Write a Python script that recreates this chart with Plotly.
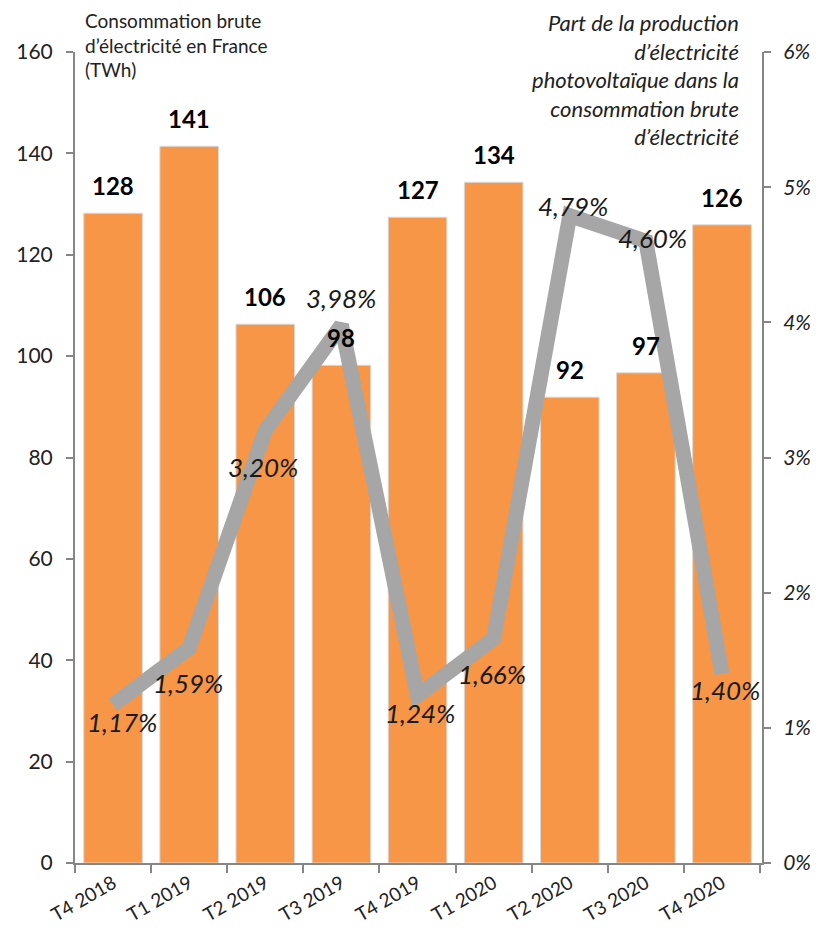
import plotly.graph_objects as go

categories = ["T4 2018", "T1 2019", "T2 2019", "T3 2019", "T4 2019", "T1 2020", "T2 2020", "T3 2020", "T4 2020"]
consumption = [128.2, 141.4, 106.3, 98.2, 127.4, 134.3, 91.9, 96.7, 125.9]
consumption_labels = ["128", "141", "106", "98", "127", "134", "92", "97", "126"]
pv_share = [1.17, 1.59, 3.20, 3.98, 1.24, 1.66, 4.79, 4.60, 1.40]
pv_labels = ["1,17%", "1,59%", "3,20%", "3,98%", "1,24%", "1,66%", "4,79%", "4,60%", "1,40%"]
# label offsets (pixels) relative to each point, as placed in the original
pv_label_dx = [9, -1, -2, 0, 2, -2, 3, 7, 3]
pv_label_dy = [-17, -35, -37, 27, -18, -35, 10, 3, -16]

FONT = "Lato, 'Open Sans', sans-serif"
AXIS = "#868686"

fig = go.Figure()
fig.add_trace(go.Bar(
    x=categories, y=consumption,
    marker=dict(color="#F79646", line=dict(color="#D9D9D9", width=1)),
    yaxis="y", showlegend=False, hoverinfo="skip",
))
fig.add_trace(go.Scatter(
    x=categories, y=pv_share, mode="lines",
    line=dict(color="#A6A6A6", width=15),
    yaxis="y2", showlegend=False, hoverinfo="skip",
))

annotations = []
for c, v, t in zip(categories, consumption, consumption_labels):
    annotations.append(dict(x=c, y=v, xref="x", yref="y", text=t, showarrow=False,
                            yanchor="bottom", yshift=11,
                            font=dict(family=FONT, size=24, color="#000000", weight="bold")))
for c, v, t, dx, dy in zip(categories, pv_share, pv_labels, pv_label_dx, pv_label_dy):
    annotations.append(dict(x=c, y=v, xref="x", yref="y2", text=t, showarrow=False,
                            xshift=dx, yshift=dy,
                            font=dict(family=FONT, size=26, color="#1a1a1a", style="italic")))
annotations.append(dict(
    xref="paper", yref="paper", x=0.012, y=1.055, xanchor="left", yanchor="top",
    text="Consommation brute<br>d’électricité en France<br>(TWh)", align="left", showarrow=False,
    font=dict(family=FONT, size=19, color="#222222")))
annotations.append(dict(
    xref="paper", yref="paper", x=0.97, y=1.056, xanchor="right", yanchor="top",
    text="Part de la production<br>d’électricité<br>photovoltaïque dans la<br>consommation brute<br>d’électricité",
    align="right", showarrow=False,
    font=dict(family=FONT, size=22, color="#222222", style="italic")))

fig.update_layout(
    width=810, height=925,
    margin=dict(l=67, r=56, t=44, b=70),
    paper_bgcolor="white", plot_bgcolor="white",
    bargap=0.23,
    font=dict(family=FONT),
    xaxis=dict(
        tickangle=-30, tickfont=dict(family=FONT, size=19, color="#222222"),
        showline=True, linecolor=AXIS, linewidth=2, automargin=False,
        ticks="outside", tickson="boundaries", ticklen=8, tickcolor=AXIS, tickwidth=2,
        showgrid=False,
    ),
    yaxis=dict(
        range=[0, 160], dtick=20, automargin=False,
        tickfont=dict(family=FONT, size=21, color="#222222"),
        showline=True, linecolor=AXIS, linewidth=2,
        ticks="outside", ticklen=7, tickcolor=AXIS, tickwidth=2, ticklabelstandoff=9,
        showgrid=False, zeroline=False,
    ),
    yaxis2=dict(
        range=[0, 6], dtick=1, ticksuffix="%", overlaying="y", side="right", automargin=False,
        tickfont=dict(family=FONT, size=21, color="#222222", style="italic"),
        showline=True, linecolor=AXIS, linewidth=2,
        ticks="outside", ticklen=7, tickcolor=AXIS, tickwidth=2, ticklabelstandoff=8,
        showgrid=False, zeroline=False,
    ),
    annotations=annotations,
)

fig.write_html("out.html")
